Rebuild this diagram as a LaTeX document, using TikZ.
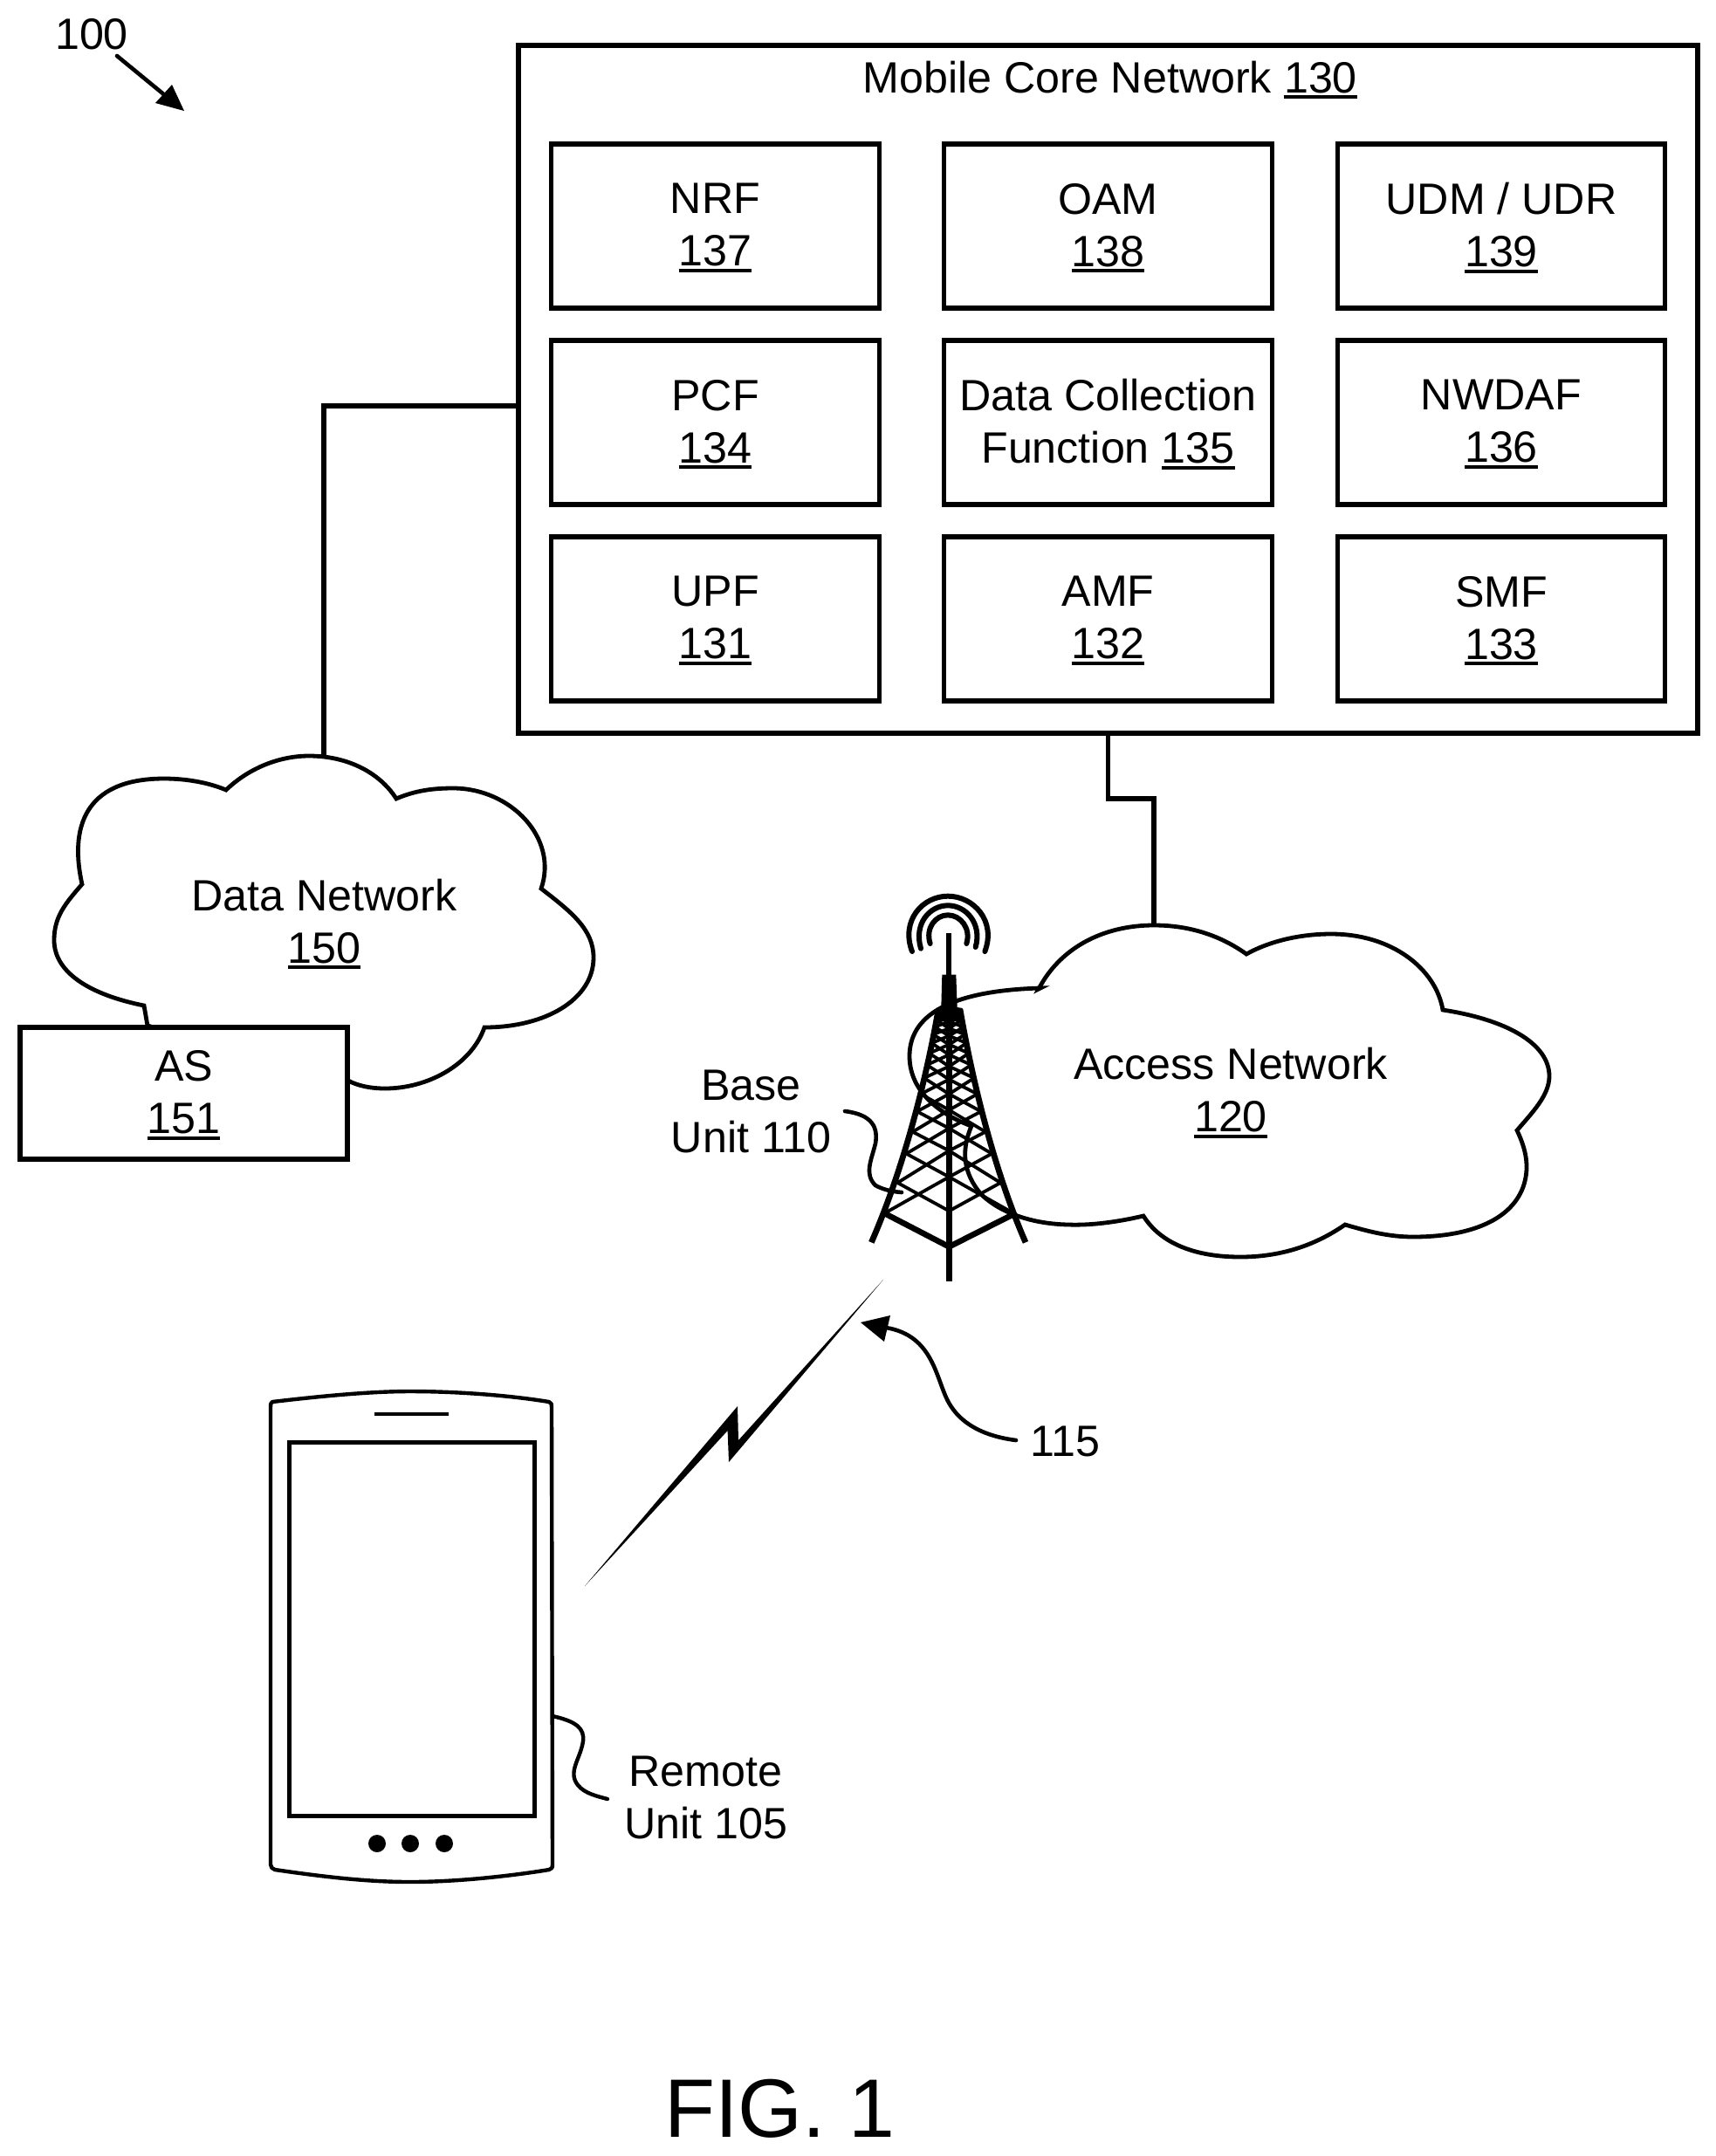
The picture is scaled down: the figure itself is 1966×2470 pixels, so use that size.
\documentclass[tikz,border=0pt]{standalone}
\usepackage{fontspec}
\setmainfont{Liberation Sans}
\newcommand\ulnum[1]{\setbox0=\hbox{#1}\rlap{\smash{\rule[-3.5pt]{\wd0}{2pt}}}\box0\vrule depth 1.5pt width 0pt height 0pt\relax}
\tikzset{
  frame/.style={draw=black,line width=2.65pt,fill=white,inner sep=0pt,align=center,font=\fontsize{25.1}{30}\selectfont},
  fnbox/.style={frame,minimum width=187.75pt,minimum height=94pt},
  label/.style={inner sep=0pt,align=center,font=\fontsize{25.1}{30}\selectfont},
  link/.style={line width=2.65pt,line join=miter},
  cloud line/.style={draw=black,line width=2.4pt,line join=miter},
  leader/.style={line width=2.3pt,line cap=round},
  phoneline/.style={line width=2.2pt,line join=round},
}
\begin{document}
\begin{tikzpicture}[x=0.5pt,y=-0.5pt]
\useasboundingbox (0,0) rectangle (1966,2470);
% ---- core
\node[frame,minimum width=675.5pt,minimum height=394pt] (core) at (1269.5,446) {};
\node[label] (coretitle) at (1271.7,89.5) {Mobile Core Network \ulnum{130}};
\node[fnbox] (nrf) at (819.5,259) {NRF\\\ulnum{137}};
\node[fnbox] (oam) at (1269.5,259) {OAM\\\ulnum{138}};
\node[fnbox] (udm) at (1720,259) {UDM / UDR\\\ulnum{139}};
\node[fnbox] (pcf) at (819.5,484) {PCF\\\ulnum{134}};
\node[fnbox] (dcf) at (1269.5,484) {Data Collection\\Function \ulnum{135}};
\node[fnbox] (nwd) at (1720,484) {NWDAF\\\ulnum{136}};
\node[fnbox] (upf) at (819.5,709) {UPF\\\ulnum{131}};
\node[fnbox] (amf) at (1269.5,709) {AMF\\\ulnum{132}};
\node[fnbox] (smf) at (1720,709) {SMF\\\ulnum{133}};
% ---- data network cloud
\coordinate (dntop) at (371,866);
\coordinate (corewest) at (594,465);
\draw[cloud line,fill=white] (94,1013) .. controls (80,950) and (95,892) .. (188,892)
  .. controls (215,892) and (240,897) .. (259,905)
  .. controls (285,880) and (320,866) .. (354,866)
  .. controls (398,866) and (435,885) .. (454,915)
  .. controls (475,906) and (495,903) .. (519,903)
  .. controls (585,903) and (640,960) .. (620,1018)
  .. controls (655,1045) and (680,1065) .. (680,1097)
  .. controls (680,1145) and (625,1177) .. (555,1177)
  .. controls (540,1220) and (490,1247) .. (441,1247)
  .. controls (425,1247) and (410,1244) .. (399,1238)
  -- (169,1175) -- (165,1152)
  .. controls (105,1140) and (62,1115) .. (62,1077)
  .. controls (62,1050) and (75,1035) .. (94,1013) -- cycle;
\draw[link] (corewest) -| (dntop);
\node[label] (dn) at (371.5,1056.5) {Data Network\\\ulnum{150}};
\node[frame,minimum width=187.5pt,minimum height=75.5pt] (as) at (210.5,1252.5) {AS\\\ulnum{151}};
% ---- access cloud
\coordinate (antop) at (1322,1060);
\coordinate (jog) at (1322,915);
\draw[link] (core.south) |- (jog) -- (antop);
\draw[cloud line] (1190,1133) .. controls (1215,1085) and (1265,1060) .. (1322,1060)
  .. controls (1365,1060) and (1400,1073) .. (1428,1093)
  .. controls (1455,1078) and (1490,1070) .. (1525,1070)
  .. controls (1595,1070) and (1645,1110) .. (1653,1157)
  .. controls (1725,1168) and (1775,1195) .. (1775,1233)
  .. controls (1775,1255) and (1755,1275) .. (1738,1295)
  .. controls (1750,1320) and (1752,1340) .. (1745,1360)
  .. controls (1730,1400) and (1680,1417) .. (1619,1417)
  .. controls (1590,1417) and (1565,1410) .. (1541,1403)
  .. controls (1505,1428) and (1465,1440) .. (1421,1440)
  .. controls (1370,1440) and (1330,1425) .. (1310,1393)
  .. controls (1280,1400) and (1250,1404) .. (1224,1403)
  .. controls (1175,1402) and (1140,1385) .. (1123,1367)
  .. controls (1105,1345) and (1100,1320) .. (1113,1290)
  .. controls (1085,1280) and (1042,1255) .. (1042,1210)
  .. controls (1042,1165) and (1085,1135) .. (1192,1132) -- cycle;
\node[label] (an) at (1410,1250) {Access Network\\\ulnum{120}};
% ---- tower
\begin{scope}[shift={(950,980)},xscale=1/3,yscale=1/3]
  \foreach \sA/\dA/\sB/\dB/\cB/\cC in {
    1230/222/1125/177/1222/1105,
    1125/177/1025/147/1105/1015,
    1025/147/950/125/1015/938,
    950/125/880/110/938/875,
    880/110/820/97/875/820,
    820/97/765/86/820/770,
    765/86/720/76/770/725,
    720/76/680/68/725/685,
    680/68/645/60/685/650,
    645/60/615/55/650/620,
    615/55/590/49/620/595,
    590/49/565/43/595/570}{
    \draw[line width=1.9pt] ({412-\dA},\sA) -- (412,\cC);
    \draw[line width=1.9pt] ({412+\dA},\sA) -- (412,\cC);
    \draw[line width=1.9pt] ({412-\dB},\sB) -- (412,\cB);
    \draw[line width=1.9pt] ({412+\dB},\sB) -- (412,\cB);
  }
  \draw[line width=3.3pt,line join=miter] (190,1230) -- (412,1345) -- (630,1235);
  \draw[line width=3.2pt] (412,530) -- (412,1465);
  \draw[line width=3.4pt] (375,530) .. controls (330,790) and (250,1090) .. (145,1330);
  \draw[line width=3.4pt] (450,530) .. controls (495,790) and (570,1090) .. (675,1330);
  \fill (388,410) -- (436,410) -- (440,522) -- (458,525) -- (463,570) -- (361,570) -- (368,525) -- (385,520) -- cycle;
  \draw[line width=3pt] (412,268) -- (412,410);
  \draw[line width=3pt,line cap=round] (347,303) .. controls (330,250) and (365,205) .. (408,205) .. controls (451,205) and (488,250) .. (472,303);
  \draw[line width=3pt,line cap=round] (315,320) .. controls (290,235) and (345,172) .. (408,172) .. controls (471,172) and (526,235) .. (503,315);
  \draw[line width=3pt,line cap=round] (285,330) .. controls (245,225) and (320,140) .. (408,140) .. controls (496,140) and (575,225) .. (535,330);
\end{scope}
\node[label] (base) at (860.5,1273) {Base\\Unit 110};
\coordinate (baseA) at (968,1273);
\coordinate (baseB) at (1033,1366);
\draw[leader] (baseA) .. controls (1000,1277) and (1006,1292) .. (1003,1310)
  .. controls (998,1330) and (990,1345) .. (1003,1358) .. controls (1010,1362) and (1020,1365) .. (baseB);
% ---- phone
\draw[phoneline] (312,1606) .. controls (380,1598) and (430,1594) .. (470,1594)
  .. controls (520,1594) and (580,1598) .. (629,1606) .. controls (632,1607) and (632,1609) .. (632,1612)
  -- (633,2136) .. controls (633,2140) and (632,2141) .. (629,2142)
  .. controls (580,2150) and (520,2156) .. (470,2156)
  .. controls (420,2156) and (370,2150) .. (315,2142) .. controls (312,2141) and (310,2139) .. (310,2136)
  -- (310,1612) .. controls (310,1609) and (310,1607) .. (312,1606) -- cycle;
\draw[line width=2.5pt] (331,1652) rectangle (612,2080);
\draw[line width=2.3pt] (429,1620) -- (514,1620);
\fill (432,2112) circle[radius=10];
\fill (470,2112) circle[radius=10];
\fill (509,2112) circle[radius=10];
\coordinate (remA) at (633,1966);
\coordinate (remB) at (696,2061);
\draw[line width=2.2pt,line cap=round] (remA) .. controls (660,1972) and (670,1980) .. (668,1995)
  .. controls (665,2015) and (650,2030) .. (662,2045) .. controls (670,2055) and (685,2058) .. (remB);
\node[label] (remote) at (808.5,2059) {Remote\\Unit 105};
% ---- radio link
\fill (670,1817) -- (845,1611) -- (846,1650) -- (1012,1466) -- (835,1675) -- (833.6,1639) -- cycle;
% ---- arrow 115
\node[label,anchor=west] (n115) at (1180,1651.5) {115};
\coordinate (s115) at (1164,1650);
\coordinate (a115) at (1015,1521);
\draw[leader] (s115) .. controls (1125,1645) and (1100,1630) .. (1087,1607) .. controls (1072,1580) and (1070,1530) .. (a115);
\fill (986,1515) -- (1020,1507) -- (1013,1537) -- cycle;
% ---- 100
\node[label] (n100) at (105,39) {100};
\coordinate (s100) at (134,64);
\coordinate (a100) at (211,127);
\draw[leader] (s100) -- (190,110);
\fill (a100) -- (178,118) -- (197,97) -- cycle;
% ---- figure title
\node[inner sep=0pt,font=\fontsize{47.5}{56}\selectfont] (fig) at (893,2416) {FIG. 1};
\end{tikzpicture}
\end{document}
